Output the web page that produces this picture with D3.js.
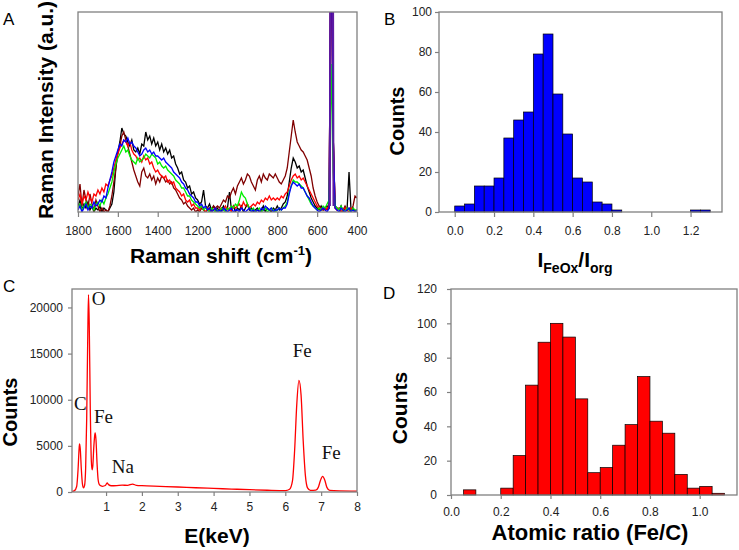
<!DOCTYPE html>
<html>
<head>
<meta charset="utf-8">
<script src="https://cdn.jsdelivr.net/npm/d3@7/dist/d3.min.js"></script>
<style>
body { margin: 0; background: #fff; }
text { font-family: Arial, "Liberation Sans", sans-serif; }
text.eds { font-family: "Liberation Serif", "Times New Roman", serif; }
</style>
</head>
<body>
<script>
// ---------- A : Raman spectra (intensity in % of frame height) ----------
var ramanShift = [
 1800,1790,1780,1770,1760,1750,1740,1730,1720,1710,
 1700,1690,1680,1670,1660,1650,1640,1630,1620,1610,
 1600,1590,1580,1570,1560,1550,1540,1530,1520,1510,
 1500,1490,1480,1470,1460,1450,1440,1430,1420,1410,
 1400,1390,1380,1370,1360,1350,1340,1330,1320,1310,
 1300,1290,1280,1270,1260,1250,1240,1230,1220,1210,
 1200,1190,1180,1170,1160,1150,1140,1130,1120,1110,
 1100,1090,1080,1070,1060,1050,1040,1030,1020,1010,
 1000,990,980,970,960,950,940,930,920,910,
 900,890,880,870,860,850,840,830,820,810,
 800,790,780,770,760,750,740,730,720,710,
 700,690,680,670,660,650,640,630,620,610,
 600,590,580,570,560,550,540,530,520,510,
 500,490,480,470,460,450,440,430,420,410,
 400];
var ramanBlack = [
 3,6,1,4,2,5,1,3,0,2,
 1,3,0,2,1,0,2,4,10,22,
 30,35,42,39,38,35,33,36,31,30,
 32,29,34,33,40,36,38,34,37,33,
 35,31,34,30,32,29,31,27,28,24,
 22,19,20,16,15,12,13,9,10,7,
 6,4,5,11,3,2,4,1,3,1,
 2,0,1,3,1,2,10,1,3,0,
 2,1,3,0,2,4,1,2,0,1,
 2,0,1,3,0,2,1,0,2,1,
 3,1,2,4,5,8,15,22,27,25,
 22,23,20,21,17,13,10,7,5,3,
 2,1,3,1,2,3,2,150,40,3,
 2,1,3,0,2,1,20,1,2,0,
 1];
var ramanBrown = [
 8,14,3,11,6,2,9,4,1,6,
 3,0,2,0,1,0,3,8,15,22,
 30,33,38,40,36,33,29,25,21,18,
 15,13,20,22,18,17,19,16,18,14,
 17,15,18,17,15,16,14,15,12,11,
 9,7,6,4,5,3,2,1,2,0,
 1,0,2,1,0,1,2,0,3,2,
 3,2,4,6,5,8,7,10,12,9,
 13,15,17,14,16,19,18,15,13,11,
 16,18,15,19,17,16,19,18,17,19,
 17,15,14,16,18,22,30,38,46,40,
 35,33,31,30,28,26,22,18,12,8,
 5,3,2,1,2,1,3,150,40,2,
 1,2,0,1,3,1,2,0,3,8,
 7];
var ramanRed = [
 6,9,4,8,6,10,7,5,9,8,
 11,9,12,10,14,13,16,18,22,26,
 29,32,34,36,35,33,35,31,29,28,
 26,27,25,28,26,27,24,25,22,20,
 21,19,18,17,18,15,16,14,15,12,
 11,10,8,9,6,5,6,3,4,2,
 2,1,3,1,0,2,1,0,1,2,
 0,1,2,1,3,1,2,0,3,2,
 3,4,2,5,3,4,2,3,4,3,
 5,4,6,5,7,6,8,6,7,6,
 7,6,8,7,9,10,13,16,18,19,
 17,18,16,17,15,13,11,9,7,5,
 3,2,1,2,1,2,3,150,40,2,
 1,2,0,1,2,1,0,2,1,0,
 1];
var ramanGreen = [
 2,4,1,3,5,2,4,3,1,4,
 5,3,6,4,7,9,12,15,20,24,
 27,29,31,33,30,31,28,26,25,24,
 27,25,26,27,29,28,27,29,28,27,
 24,25,23,22,23,21,20,19,18,16,
 15,14,12,12,10,8,8,6,5,4,
 3,2,3,1,2,1,0,2,1,0,
 1,0,2,1,0,2,1,3,2,4,
 3,6,10,8,7,4,2,1,2,0,
 1,2,0,1,2,0,1,2,1,0,
 1,2,1,2,3,5,10,13,16,15,
 15,14,13,12,10,8,6,4,3,2,
 1,2,1,3,2,4,6,74,20,3,
 2,1,3,1,0,2,1,0,2,1,
 1];
var ramanBlue = [
 1,3,0,2,4,1,3,2,5,3,
 4,6,5,8,7,12,16,20,25,28,
 31,34,33,36,35,37,34,35,33,32,
 30,28,29,31,32,30,31,29,30,28,
 28,27,26,27,25,24,23,22,20,19,
 18,17,15,14,12,11,9,8,7,5,
 5,3,4,2,3,1,2,0,1,2,
 0,1,0,2,1,0,1,2,0,1,
 1,0,2,1,0,1,2,0,1,0,
 1,0,2,1,3,2,1,2,0,1,
 1,2,1,2,2,4,9,13,15,14,
 13,14,12,12,10,8,7,5,3,2,
 1,0,1,2,1,0,2,150,40,2,
 1,0,2,1,0,1,2,0,1,0,
 1];
var siShift = [536, 530, 524, 518];
var siValue = [3, 300, 300, 3];
var ramanTicks = [1800, 1600, 1400, 1200, 1000, 800, 600, 400];

// ---------- B : histogram of I_FeOx / I_org ----------
var ratioBinStart = [0.00,0.05,0.10,0.15,0.20,0.25,0.30,0.35,0.40,0.45,0.50,0.55,0.60,0.65,0.70,0.75,0.80,1.20,1.25];
var ratioCounts   = [3,4,13,13,17,37,46,50,79,89,59,39,17,15,5,4,1,1,1];
var ratioXTicks = [0, 0.2, 0.4, 0.6, 0.8, 1.0, 1.2];
var ratioYTicks = [0, 20, 40, 60, 80, 100];

// ---------- C : EDS spectrum ----------
var edsEnergy = [0.05,0.12,0.18,0.22,0.25,0.26,0.28,0.31,0.34,0.37,0.40,0.43,0.46,0.49,0.51,0.53,0.56,0.59,0.61,0.63,
 0.66,0.69,0.70,0.72,0.75,0.78,0.82,0.90,0.98,1.03,1.07,1.15,1.30,1.45,1.60,1.74,1.85,2.0,2.5,3.0,
 3.5,4.0,4.5,5.0,5.5,6.0,6.12,6.2,6.26,6.32,6.38,6.44,6.5,6.56,6.62,6.7,6.85,6.92,6.98,7.04,
 7.1,7.16,7.24,7.5,8.0];
var edsCounts = [50,150,600,2500,4800,5200,4700,2500,900,450,700,2500,8000,17000,21400,18500,9000,3300,2400,2800,
 5000,6300,6400,5600,3000,1300,750,620,700,980,800,680,700,740,720,860,720,680,610,540,
 460,390,320,250,190,150,300,1200,4500,9500,12100,10500,5500,1800,450,180,200,500,1250,1690,
 1300,500,170,120,100];
var edsLabels = ["O", "C", "Fe", "Na", "Fe", "Fe"];
var edsLabelE = [0.60, 0.106, 0.664, 1.157, 6.206, 7.015];
var edsLabelC = [20300, 8900, 7510, 2030, 14600, 3540];
var edsXTicks = [1, 2, 3, 4, 5, 6, 7, 8];
var edsYTicks = [0, 5000, 10000, 15000, 20000];

// ---------- D : histogram of Fe/C ----------
var atomicBinStart = [0.05,0.20,0.25,0.30,0.35,0.40,0.45,0.50,0.55,0.60,0.65,0.70,0.75,0.80,0.85,0.90,0.95,1.00,1.05];
var atomicCounts   = [3,4,23,64,89,100,92,56,13,16,29,41,69,43,36,12,4,5,1];
var atomicXTicks = [0, 0.2, 0.4, 0.6, 0.8, 1.0];
var atomicYTicks = [0, 20, 40, 60, 80, 100, 120];
var binWidth = 0.05;

var svg = d3.select("body").append("svg")
	.attr("width", 739)
	.attr("height", 550);

var frameColor = "#808080";

function drawFrame(x, y){
	svg.append("rect")
	.attr("x", x.range()[0])
	.attr("y", y.range()[1])
	.attr("width", x.range()[1] - x.range()[0])
	.attr("height", y.range()[0] - y.range()[1])
	.attr("fill", "none")
	.attr("stroke", frameColor)
	.attr("stroke-width", 1.3);
}

function styleAxis(g){
	g.select(".domain").remove();
	g.selectAll(".tick line").attr("stroke", frameColor).attr("stroke-width", 1.2);
	g.selectAll(".tick text")
	.attr("fill", "#222")
	.style("font-size", "12px");
}

function xAxis(x, y, ticks, fmt, size, pad){
	var g = svg.append("g")
	.attr("transform", "translate(0," + y.range()[0] + ")")
	.call(d3.axisBottom(x).tickValues(ticks).tickFormat(fmt).tickSize(size).tickPadding(pad).tickSizeOuter(0));
	styleAxis(g);
}

function yAxis(x, y, ticks, fmt, size, pad){
	var g = svg.append("g")
	.attr("transform", "translate(" + x.range()[0] + ",0)")
	.call(d3.axisLeft(y).tickValues(ticks).tickFormat(fmt).tickSize(size).tickPadding(pad).tickSizeOuter(0));
	styleAxis(g);
}

function title(txt, x, y, size, rot){
	var t = svg.append("text")
	.attr("text-anchor", "middle")
	.attr("font-weight", "bold")
	.attr("font-size", size)
	.attr("fill", "#000");
	if(rot) t.attr("transform", "translate(" + x + "," + y + ") rotate(-90)");
	else t.attr("x", x).attr("y", y);
	t.text(txt);
	return t;
}

function letter(txt, x, y){
	svg.append("text").attr("x", x).attr("y", y)
	.attr("font-size", 17).attr("fill", "#000").text(txt);
}

// ===== A =====
var ax = d3.scaleLinear().domain([1800, 400]).range([78, 357]);
var ay = d3.scaleLinear().domain([0, 100]).range([212, 12]);

svg.append("defs").append("clipPath").attr("id", "clipA")
	.append("rect").attr("x", 78).attr("y", 12).attr("width", 279).attr("height", 200);

var ramanLine = d3.line()
	.x(function(d, i){ return ax(ramanShift[i]); })
	.y(function(d){ return ay(d); });

var gA = svg.append("g").attr("clip-path", "url(#clipA)");
var ramanSeries = [
	{v: ramanBlack, c: "#000000"},
	{v: ramanBrown, c: "#800000"},
	{v: ramanRed, c: "#ff0000"},
	{v: ramanGreen, c: "#00ee00"},
	{v: ramanBlue, c: "#0000ff"}
];
gA.selectAll("path.raman").data(ramanSeries).enter()
	.append("path")
	.attr("class", "raman")
	.attr("d", function(s){ return ramanLine(s.v); })
	.attr("fill", "none")
	.attr("stroke", function(s){ return s.c; })
	.attr("stroke-width", 1.3);

var siLine = d3.line()
	.x(function(d, i){ return ax(siShift[i]); })
	.y(function(d){ return ay(d); });
gA.append("path")
	.attr("d", siLine(siValue))
	.attr("fill", "none")
	.attr("stroke", "#5e1aa0")
	.attr("stroke-width", 2);

drawFrame(ax, ay);
xAxis(ax, ay, ramanTicks, d3.format("d"), 5, 9);

title("Raman Intensity (a.u.)", 53, 110, 21, true);
var tA = title("Raman shift (cm", 221, 263, 21, false);
tA.append("tspan").attr("font-size", 13).attr("dy", -8).text("-1");
tA.append("tspan").attr("dy", 8).text(")");
letter("A", 3, 25);

// ===== B =====
var bx = d3.scaleLinear().domain([-0.08, 1.36]).range([439, 722]);
var by = d3.scaleLinear().domain([0, 100]).range([212, 12]);

svg.selectAll("rect.barB").data(ratioCounts).enter()
	.append("rect")
	.attr("class", "barB")
	.attr("x", function(d, i){ return bx(ratioBinStart[i]); })
	.attr("y", function(d){ return by(d); })
	.attr("width", function(d, i){ return bx(ratioBinStart[i] + binWidth) - bx(ratioBinStart[i]); })
	.attr("height", function(d){ return by(0) - by(d); })
	.attr("fill", "#0000ff")
	.attr("stroke", "#000")
	.attr("stroke-width", 0.7);

drawFrame(bx, by);
xAxis(bx, by, ratioXTicks, d3.format(".1f"), 5, 9);
yAxis(bx, by, ratioYTicks, d3.format("d"), 4, 3);

title("Counts", 404, 121, 20, true);
var tB = title("I", 575, 267, 21, false);
tB.append("tspan").attr("font-size", 14).attr("dy", 6).text("FeOx");
tB.append("tspan").attr("dy", -6).text("/I");
tB.append("tspan").attr("font-size", 14).attr("dy", 6).text("org");
letter("B", 384, 25);

// ===== C =====
var cx = d3.scaleLinear().domain([0.05, 8]).range([72, 357]);
var cy = d3.scaleLinear().domain([0, 22000]).range([492, 289]);

var edsLine = d3.line()
	.x(function(d, i){ return cx(edsEnergy[i]); })
	.y(function(d){ return cy(d); })
	.curve(d3.curveMonotoneX);

svg.append("path")
	.attr("d", edsLine(edsCounts))
	.attr("fill", "none")
	.attr("stroke", "#ff0000")
	.attr("stroke-width", 1.3);

svg.selectAll("text.eds").data(edsLabels).enter()
	.append("text")
	.attr("class", "eds")
	.attr("x", function(d, i){ return cx(edsLabelE[i]); })
	.attr("y", function(d, i){ return cy(edsLabelC[i]); })
	.attr("font-size", 19)
	.attr("fill", "#111")
	.text(function(d){ return d; });

drawFrame(cx, cy);
xAxis(cx, cy, edsXTicks, d3.format("d"), 4, 6);
yAxis(cx, cy, edsYTicks, d3.format("d"), 4, 5);

title("Counts", 17, 412, 20, true);
title("E(keV)", 217, 543, 21, false);
letter("C", 3, 292);

// ===== D =====
var dx = d3.scaleLinear().domain([0, 1.15]).range([451, 737]);
var dy = d3.scaleLinear().domain([0, 120]).range([495, 289]);

svg.selectAll("rect.barD").data(atomicCounts).enter()
	.append("rect")
	.attr("class", "barD")
	.attr("x", function(d, i){ return dx(atomicBinStart[i]); })
	.attr("y", function(d){ return dy(d); })
	.attr("width", function(d, i){ return dx(atomicBinStart[i] + binWidth) - dx(atomicBinStart[i]); })
	.attr("height", function(d){ return dy(0) - dy(d); })
	.attr("fill", "#ff0000")
	.attr("stroke", "#000")
	.attr("stroke-width", 0.7);

drawFrame(dx, dy);
xAxis(dx, dy, atomicXTicks, d3.format(".1f"), 4, 8);
yAxis(dx, dy, atomicYTicks, d3.format("d"), 4, 10);

title("Counts", 407, 408, 21, true);
title("Atomic ratio (Fe/C)", 590, 540, 22, false);
letter("D", 383, 299);
</script>
</body>
</html>
